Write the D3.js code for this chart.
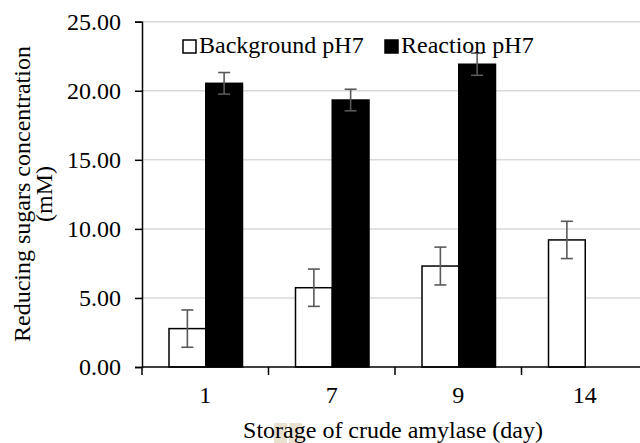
<!DOCTYPE html>
<html>
<head>
<meta charset="utf-8">
<script src="https://cdn.jsdelivr.net/npm/d3@7"></script>
<style>
  html, body { margin: 0; padding: 0; background: #fff; }
  svg { display: block; }
  text { font-family: "Liberation Serif", "Times New Roman", serif; fill: #000; }
</style>
</head>
<body>
<svg id="chart" width="640" height="443"></svg>
<script>
// Storage days of the crude amylase
const days = ["1", "7", "9", "14"];
// Reducing sugars (mM), mean and error per day
const backgroundPH7 = [2.78, 5.74, 7.31, 9.20];
const backgroundErr = [1.35, 1.35, 1.37, 1.35];
const reactionPH7 = [20.54, 19.33, 21.92, null];
const reactionErr = [0.78, 0.78, 0.80, null];
const seriesNames = ["Background pH7", "Reaction pH7"];
const yTicks = [0, 5, 10, 15, 20, 25];

const serif = "'Liberation Serif', 'Times New Roman', serif";
const svg = d3.select("#chart");
const plotLeft = 142, plotRight = 648, plotTop = 21.7, plotBottom = 367;

const x = d3.scaleBand().domain(days).range([plotLeft, plotRight]).padding(0);
const bw = x.bandwidth();
const xs = d3.scaleBand().domain(seriesNames).range([27, bw - 26]).padding(0);
const y = d3.scaleLinear().domain([0, 25]).range([plotBottom, plotTop]);

// horizontal gridlines
svg.append("g").selectAll("line").data(yTicks.filter(d => d > 0)).join("line")
  .attr("x1", plotLeft).attr("x2", plotRight)
  .attr("y1", d => y(d)).attr("y2", d => y(d))
  .attr("stroke", "#d9d9d9").attr("stroke-width", 1.5);

// bars
const rows = days.map((d, i) => ({
  day: d,
  vals: [
    { s: seriesNames[0], v: backgroundPH7[i], e: backgroundErr[i] },
    { s: seriesNames[1], v: reactionPH7[i], e: reactionErr[i] }
  ].filter(o => o.v != null)
}));

const groups = svg.append("g").selectAll("g").data(rows).join("g")
  .attr("transform", d => `translate(${x(d.day)},0)`);

groups.selectAll("rect").data(d => d.vals).join("rect")
  .attr("x", d => xs(d.s))
  .attr("width", xs.bandwidth())
  .attr("y", d => y(d.v))
  .attr("height", d => y(0) - y(d.v))
  .attr("fill", d => d.s === seriesNames[0] ? "#fff" : "#000")
  .attr("stroke", "#000")
  .attr("stroke-width", 1.5);

// error bars
const cx = d => xs(d.s) + xs.bandwidth() / 2;
const eb = groups.selectAll("g.err").data(d => d.vals).join("g").attr("class", "err")
  .attr("stroke", "#595959").attr("stroke-width", 1.6).attr("fill", "none");
eb.append("line")
  .attr("x1", cx).attr("x2", cx)
  .attr("y1", d => y(d.v + d.e)).attr("y2", d => y(d.v - d.e));
eb.append("line")
  .attr("x1", d => cx(d) - 6).attr("x2", d => cx(d) + 6)
  .attr("y1", d => y(d.v + d.e)).attr("y2", d => y(d.v + d.e));
eb.append("line")
  .attr("x1", d => cx(d) - 6).attr("x2", d => cx(d) + 6)
  .attr("y1", d => y(d.v - d.e)).attr("y2", d => y(d.v - d.e));

// y axis
const yAxis = svg.append("g").attr("transform", `translate(${plotLeft},0)`)
  .call(d3.axisLeft(y).tickValues(yTicks).tickFormat(d3.format(".2f")).tickSizeOuter(0).tickSize(7).tickPadding(14))
  .attr("font-family", serif).attr("font-size", 24);
yAxis.select(".domain").attr("stroke", "#000").attr("stroke-width", 1.5);
yAxis.selectAll(".tick line").attr("stroke", "#000").attr("stroke-width", 1.5);
yAxis.selectAll(".tick text").style("font-family", serif).style("font-size", "24px").attr("fill", "#000");

// x axis with ticks between categories
const xAxis = svg.append("g").attr("transform", `translate(0,${plotBottom})`);
xAxis.append("line").attr("x1", plotLeft).attr("x2", plotRight).attr("y1", 0).attr("y2", 0)
  .attr("stroke", "#000").attr("stroke-width", 1.5);
const bounds = days.map(d => x(d)).concat([x(days[days.length - 1]) + bw]);
xAxis.selectAll("line.tk").data(bounds).join("line").attr("class", "tk")
  .attr("x1", d => d).attr("x2", d => d).attr("y1", 0).attr("y2", 8)
  .attr("stroke", "#000").attr("stroke-width", 1.5);
xAxis.selectAll("text").data(days).join("text")
  .attr("x", d => x(d) + bw / 2).attr("y", 36)
  .attr("text-anchor", "middle").style("font-size", "24px").text(d => d);

// legend
const legend = svg.append("g");
const legItems = [
  { name: seriesNames[0], fill: "#fff", lx: 183 },
  { name: seriesNames[1], fill: "#000", lx: 385 }
];
legItems.forEach(it => {
  legend.append("rect").attr("x", it.lx).attr("y", 40).attr("width", 13).attr("height", 13)
    .attr("fill", it.fill).attr("stroke", "#000").attr("stroke-width", 1.5);
  legend.append("text").attr("x", it.lx + 16).attr("y", 53).style("font-size", "24px").text(it.name);
});

// x title, with its tinted letter cells
svg.append("rect").attr("x", 274).attr("y", 423).attr("width", 13).attr("height", 20).attr("fill", "#e9e1cf");
svg.append("rect").attr("x", 289).attr("y", 423).attr("width", 13).attr("height", 20).attr("fill", "#e9e1cf");
svg.append("text").attr("x", 393).attr("y", 438).attr("text-anchor", "middle")
  .style("font-size", "24px").text("Storage of crude amylase (day)");

// y title on two lines
const yt = svg.append("text").attr("transform", "translate(0,194) rotate(-90)")
  .attr("text-anchor", "middle").style("font-size", "24px");
yt.append("tspan").attr("x", 0).attr("y", 30).text("Reducing sugars concentration");
yt.append("tspan").attr("x", 0).attr("y", 52).text("(mM)");
</script>
</body>
</html>
